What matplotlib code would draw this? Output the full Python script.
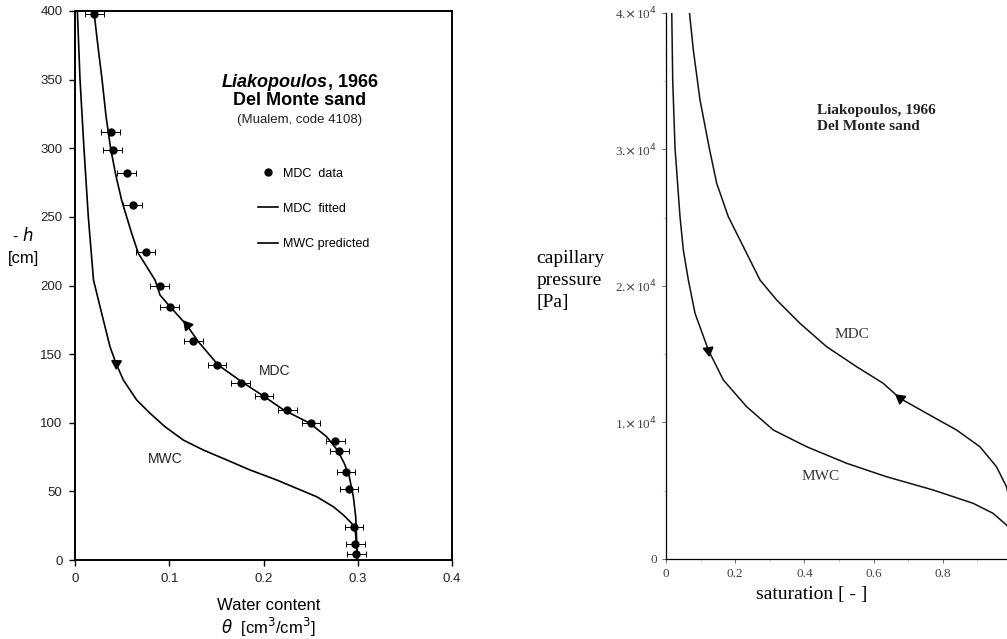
import numpy as np
import matplotlib
matplotlib.use('agg')
import matplotlib.pyplot as plt
from matplotlib.lines import Line2D
from matplotlib.ticker import MultipleLocator, FuncFormatter

# left panel: MDC data with error bars (theta [cm3/cm3], -h [cm])
mdc_theta = [0.0205, 0.038, 0.040, 0.055, 0.061, 0.075, 0.090, 0.1005, 0.1255, 0.1507,
             0.1758, 0.2005, 0.2253, 0.2504, 0.276, 0.2805, 0.2875, 0.2907, 0.296, 0.2975, 0.2985]
mdc_h = [397.6, 312, 299, 282, 259, 224.6, 199.6, 184.6, 159.3, 142.1,
         129.2, 119.5, 109.3, 99.6, 86.9, 79.4, 64.4, 52, 24.3, 11.4, 4.4]
mdc_err = 0.01

# MDC fitted curve
fit_h = [400, 371.6, 350, 323.3, 299.8, 281, 262, 238, 223.4, 204, 193, 184.6, 171.2, 159,
         142, 129.9, 119.5, 109.3, 99.6, 89.8, 80.1, 70.4, 60.7, 46.1, 31.5, 14.6, 0]
fit_theta = [0.0200, 0.0248, 0.0287, 0.0329, 0.0378, 0.0431, 0.0495, 0.0601, 0.0672, 0.0849,
             0.0902, 0.1008, 0.1185, 0.1309, 0.152, 0.1768, 0.1998, 0.2215, 0.2493, 0.267,
             0.2783, 0.2857, 0.291, 0.2953, 0.2978, 0.2988, 0.2996]

# MWC predicted curve
mwc_h = [400, 350, 299.8, 250, 204, 179.7, 155.4, 143.3, 131.1, 116.6, 106.9, 97.1, 87.4,
         80.1, 72.9, 65.6, 58.3, 52.2, 46.1, 38.8, 32.8, 26.7, 20, 10, 0]
mwc_theta = [0.0025, 0.0053, 0.0095, 0.0141, 0.0196, 0.0283, 0.0371, 0.0435, 0.0513, 0.0654,
             0.0796, 0.0955, 0.1149, 0.1362, 0.161, 0.1857, 0.214, 0.2352, 0.2564, 0.2741,
             0.2847, 0.2936, 0.2975, 0.2988, 0.2996]

# right panel: saturation [-] vs capillary pressure [Pa]
sat_mdc = [0.0674, 0.0789, 0.0982, 0.1251, 0.1464, 0.18, 0.2282, 0.2715, 0.3197, 0.387,
           0.464, 0.5507, 0.6276, 0.676, 0.753, 0.8396, 0.907, 0.955, 0.984, 1.0]
pc_mdc = [40095, 37289, 33626, 30088, 27524, 25077, 22637, 20440, 18974, 17265,
          15553, 14088, 12872, 11773, 10674, 9451, 8227, 6762, 5297, 3500]
sat_mwc = [0.0165, 0.0193, 0.026, 0.0404, 0.050, 0.0645, 0.0838, 0.1223, 0.1656, 0.233,
           0.31, 0.4063, 0.522, 0.637, 0.772, 0.8875, 0.945, 0.984, 1.0]
pc_mwc = [40095, 35092, 30088, 25077, 22637, 20440, 18000, 15311, 13114, 11157,
          9451, 8227, 7011, 6029, 5055, 4080, 3348, 2491, 1900]

sans = ['Liberation Sans', 'DejaVu Sans']
serif = ['Liberation Serif', 'DejaVu Serif']

fig = plt.figure(figsize=(10.07, 6.39), dpi=100)

# ---- left panel ----
ax = fig.add_axes([0.0745, 0.1236, 0.3744, 0.8592])
ax.plot(fit_theta, fit_h, color='black', lw=1.2, solid_joinstyle='round')
ax.plot(mwc_theta, mwc_h, color='black', lw=1.2, solid_joinstyle='round')
ax.errorbar(mdc_theta, mdc_h, xerr=mdc_err, fmt='o', color='black', ms=5,
            elinewidth=0.7, capsize=2, capthick=0.7)
# direction arrows
ax.plot([0.1185], [171.2], marker=(3, 0, 40), color='black', ms=8)
ax.plot([0.0435], [143.3], marker=(3, 0, 178), color='black', ms=8)

ax.set_xlim(0, 0.4)
ax.set_ylim(0, 400)
ax.set_xticks([0, 0.1, 0.2, 0.3, 0.4])
ax.set_xticklabels(['0', '0.1', '0.2', '0.3', '0.4'])
ax.set_yticks(range(0, 401, 50))
for s in ax.spines.values():
    s.set_linewidth(1.4)
ax.tick_params(labelsize=9.5, length=4, width=1, colors='black', labelcolor='#222222', pad=5)
for lab in ax.get_xticklabels() + ax.get_yticklabels():
    lab.set_family(sans)

ax.text(0.2684, 348, 'Liakopoulos', ha='right', va='center', fontsize=13,
        fontweight='bold', fontstyle='italic', family=sans)
ax.text(0.2684, 348, ', 1966', ha='left', va='center', fontsize=13,
        fontweight='bold', family=sans)
ax.text(0.2387, 334.5, 'Del Monte sand', ha='center', va='center', fontsize=13,
        fontweight='bold', family=sans)
ax.text(0.2387, 320.5, '(Mualem, code 4108)', ha='center', va='center', fontsize=9.5,
        family=sans, color='#222222')
ax.text(0.212, 138, 'MDC', ha='center', va='center', fontsize=10, family=sans, color='#222222')
ax.text(0.0955, 73.6, 'MWC', ha='center', va='center', fontsize=10, family=sans, color='#222222')

handles = [Line2D([], [], color='black', marker='o', ls='none', ms=5),
           Line2D([], [], color='black', lw=1.2),
           Line2D([], [], color='black', lw=1.2)]
leg = ax.legend(handles, ['MDC  data', 'MDC  fitted', 'MWC predicted'], loc='upper left',
                bbox_to_anchor=(0.455, 0.735), frameon=False, handlelength=1.6,
                handletextpad=0.45, labelspacing=1.85, prop={'family': sans, 'size': 9})

ax.text(-0.055, 237, '- $\\it{h}$', ha='center', va='center', fontsize=12, family=sans)
ax.text(-0.055, 220, '[cm]', ha='center', va='center', fontsize=12, family=sans)
ax.text(0.205, -33, 'Water content', ha='center', va='center', fontsize=12, family=sans)
ax.text(0.205, -49, r'$\theta$  [cm$^3$/cm$^3$]', ha='center', va='center', fontsize=12,
        family=sans)

# ---- right panel ----
ax2 = fig.add_axes([0.6614, 0.1252, 0.3436, 0.8545])
ax2.plot(sat_mdc, pc_mdc, color='#111111', lw=1.1, solid_joinstyle='round')
ax2.plot(sat_mwc, pc_mwc, color='#111111', lw=1.1, solid_joinstyle='round')
ax2.plot([0.676], [11773], marker=(3, 0, 172), color='black', ms=8)
ax2.plot([0.1223], [15311], marker=(3, 0, 188), color='black', ms=8)
ax2.set_xlim(0, 1.0)
ax2.set_ylim(0, 40000)
ax2.spines['top'].set_visible(False)
ax2.spines['right'].set_visible(False)
for s in ['left', 'bottom']:
    ax2.spines[s].set_linewidth(0.9)
ax2.set_xticks([0, 0.2, 0.4, 0.6, 0.8])
ax2.set_xticklabels(['0', '0.2', '0.4', '0.6', '0.8'])
ax2.xaxis.set_minor_locator(MultipleLocator(0.1))
ax2.set_yticks([0, 10000, 20000, 30000, 40000])
ax2.yaxis.set_major_formatter(FuncFormatter(
    lambda v, p: '0' if v == 0 else r'%d.$\times$10$^4$' % int(v / 10000)))
ax2.yaxis.set_minor_locator(MultipleLocator(5000))
ax2.tick_params(which='major', length=3, width=0.6, labelsize=9.5, colors='#555555',
                labelcolor='#444444')
ax2.tick_params(which='minor', length=2, width=0.5, colors='#bbbbbb')
for lab in ax2.get_xticklabels() + ax2.get_yticklabels():
    lab.set_family(serif)

ax2.text(0.436, 32270, 'Liakopoulos, 1966\nDel Monte sand', ha='left', va='center',
         fontsize=11, fontweight='bold', family=serif, linespacing=1.35, color='#222222')
ax2.text(0.536, 16446, 'MDC', ha='center', va='center', fontsize=11, family=serif, color='#333333')
ax2.text(0.447, 6080, 'MWC', ha='center', va='center', fontsize=11, family=serif, color='#333333')
ax2.text(-0.375, 20400, 'capillary\npressure\n[Pa]', ha='left', va='center', fontsize=14,
         family=serif, linespacing=1.35)
ax2.text(0.42, -2600, 'saturation [ - ]', ha='center', va='center', fontsize=14, family=serif)

fig.savefig('out.png', dpi=100)
